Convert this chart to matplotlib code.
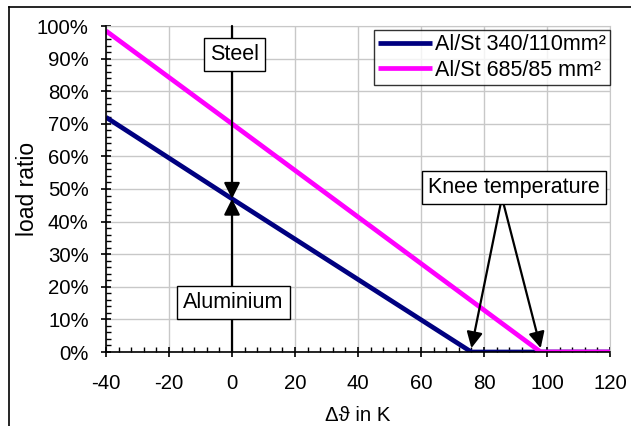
import numpy as np
import matplotlib
matplotlib.use("Agg")
import matplotlib.pyplot as plt
from matplotlib.ticker import MultipleLocator, FuncFormatter
from matplotlib.lines import Line2D

plt.rcParams['font.family'] = ['Liberation Sans', 'DejaVu Sans']
plt.rcParams['axes.unicode_minus'] = False

# data
temp_340 = [-40, 0, 76, 120]
ratio_340 = [72, 47, 0, 0]
temp_685 = [-40, 0, 98, 120]
ratio_685 = [98.5, 70, 0, 0]
labels = ["Al/St 340/110mm²", "Al/St 685/85 mm²"]
knee_temps = [76, 98]
split_ratio = 47

FS = 14.7      # tick / axis labels
FS_T = 15.5    # legend and callouts
fig = plt.figure(figsize=(6.31, 4.26), dpi=100)
ax = fig.add_axes([106 / 631, 1 - 352 / 426, (610 - 106) / 631, (352 - 26) / 426])

ax.plot(temp_340, ratio_340, color="#000080", lw=3.4, label=labels[0], zorder=3, solid_capstyle="butt")
ax.plot(temp_685, ratio_685, color="#FF00FF", lw=3.4, label=labels[1], zorder=3, solid_capstyle="butt")

ax.set_xlim(-40, 120)
ax.set_ylim(0, 100)
ax.xaxis.set_major_locator(MultipleLocator(20))
ax.xaxis.set_minor_locator(MultipleLocator(4))
ax.yaxis.set_major_locator(MultipleLocator(10))
ax.yaxis.set_minor_locator(MultipleLocator(2))
ax.yaxis.set_major_formatter(FuncFormatter(lambda v, p: f"{v:.0f}%"))
ax.grid(True, which="major", color="#c8c8c8", lw=1)
for s in ["top", "right"]:
    ax.spines[s].set_color("#c8c8c8")
for s in ["left", "bottom"]:
    ax.spines[s].set_color("black")
    ax.spines[s].set_linewidth(1.2)
    ax.spines[s].set_zorder(4)
ax.tick_params(which="major", direction="inout", length=7, width=1.2, labelsize=FS)
ax.tick_params(axis="x", which="major", pad=12)
ax.tick_params(axis="y", which="major", pad=9)
ax.tick_params(which="minor", direction="in", length=3.5, width=1)
ax.tick_params(top=False, right=False, which="both")
ax.set_xlabel("Δϑ in K", fontsize=FS, labelpad=10)
ax.set_ylabel("load ratio", fontsize=16.5, labelpad=-1.5)

arrow = dict(arrowstyle="-|>", color="black", lw=1.6, mutation_scale=24, shrinkA=0, shrinkB=0)
ax.annotate("", xy=(0, split_ratio), xytext=(0, 100), arrowprops=arrow, zorder=4)
ax.annotate("", xy=(0, split_ratio), xytext=(0, 0), arrowprops=arrow, zorder=4)
for kt, sx in zip(knee_temps, [85.3, 86.2]):
    ax.annotate("", xy=(kt, 1.2), xytext=(sx, 45.5), arrowprops=arrow, zorder=4)

box = dict(facecolor="white", edgecolor="black", boxstyle="square,pad=0.28", lw=1)
ax.text(0.7, 91.2, "Steel", fontsize=FS_T, ha="center", va="center", bbox=box, zorder=6)
ax.text(0.5, 15.3, "Aluminium", fontsize=FS_T, ha="center", va="center", bbox=box, zorder=6)
ax.text(89.4, 50.4, "Knee temperature", fontsize=FS_T, ha="center", va="center", bbox=box, zorder=6)

leg = ax.legend(loc="upper right", bbox_to_anchor=(1.0, 0.988), fontsize=FS_T, frameon=True, fancybox=False,
                handlelength=2.5, handletextpad=0.15, borderpad=0.2, labelspacing=0.2, borderaxespad=0.0)
leg.get_frame().set_edgecolor("black")
leg.get_frame().set_linewidth(1)
leg.set_zorder(7)

# figure frame (left and top edges visible)
fig.add_artist(Line2D([9 / 631, 9 / 631], [0, 1 - 7 / 426], color="black", lw=1.2, transform=fig.transFigure))
fig.add_artist(Line2D([9 / 631, 1], [1 - 7 / 426, 1 - 7 / 426], color="black", lw=1.2, transform=fig.transFigure))

fig.savefig("out.png", dpi=100)
